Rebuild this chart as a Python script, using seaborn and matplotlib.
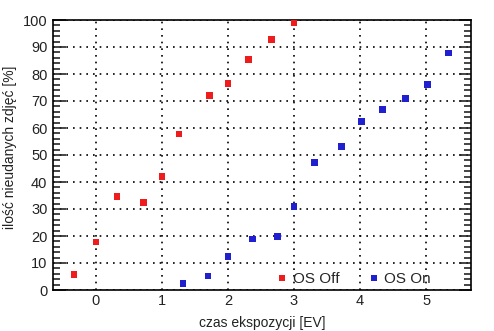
import matplotlib
matplotlib.use("Agg")
import matplotlib.pyplot as plt
from matplotlib.ticker import MultipleLocator
import seaborn as sns
import pandas as pd

off_x = [-0.33, 0.0, 0.32, 0.72, 1.0, 1.26, 1.72, 2.0, 2.31, 2.66, 3.0]
off_y = [5.8, 17.7, 34.7, 32.5, 42.1, 57.7, 72.1, 76.5, 85.4, 92.8, 98.8]
on_x = [1.32, 1.70, 2.0, 2.37, 2.75, 3.0, 3.31, 3.72, 4.02, 4.34, 4.69, 5.02, 5.34]
on_y = [2.5, 5.1, 12.5, 18.8, 19.9, 31.0, 47.3, 53.2, 62.5, 66.9, 71.0, 76.2, 87.7]
series = ["OS Off", "OS On"]
colors = ["#ee1c1c", "#2020d0"]

df = pd.DataFrame({
    "x": off_x + on_x,
    "y": off_y + on_y,
    "s": [series[0]] * len(off_x) + [series[1]] * len(on_x),
})

sns.set_style("white")
plt.rcParams["font.family"] = ["Liberation Sans", "DejaVu Sans"]
plt.rcParams["font.size"] = 10

fig = plt.figure(figsize=(4.94, 3.31), dpi=100)
ax = fig.add_axes([53 / 494, 1 - 290 / 331, (471 - 53) / 494, (290 - 20) / 331])

sns.scatterplot(data=df, x="x", y="y", hue="s", palette=dict(zip(series, colors)),
                marker="s", s=22, linewidth=0, ax=ax, zorder=3)

ax.set_xlim(-0.65, 5.68)
ax.set_ylim(0, 100)
ax.xaxis.set_major_locator(MultipleLocator(1))
ax.yaxis.set_major_locator(MultipleLocator(10))
ax.yaxis.set_minor_locator(MultipleLocator(2))
ax.tick_params(axis="x", which="both", length=0, pad=3, labelsize=10.5, colors="#222222")
ax.tick_params(axis="y", which="major", direction="in", length=9, width=1.2, left=True, right=True,
               labelsize=10.5, pad=4, labelcolor="#222222")
ax.tick_params(axis="y", which="minor", direction="in", length=5, width=1.2, left=True, right=True)
ax.grid(True, which="major", color="black", linestyle=(0, (1, 3)), linewidth=1.2)
for sp in ax.spines.values():
    sp.set_visible(True)
    sp.set_color("black")
    sp.set_linewidth(1.2)

ax.set_xlabel("czas ekspozycji [EV]", fontsize=10, color="#222222")
ax.set_ylabel("ilość nieudanych zdjęć [%]", fontsize=10, color="#222222", va="center")
ax.xaxis.set_label_coords(0.5, -0.097)
ax.yaxis.set_label_coords(-0.102, 0.53)

leg = ax.legend(loc="lower right", ncol=2, frameon=False, fontsize=11,
                handlelength=0.8, handletextpad=0.3, columnspacing=1.85, markerscale=0.8,
                bbox_to_anchor=(0.937, -0.037))
for h in leg.legend_handles:
    h.set_marker("s")

fig.savefig("out.png", dpi=100)
